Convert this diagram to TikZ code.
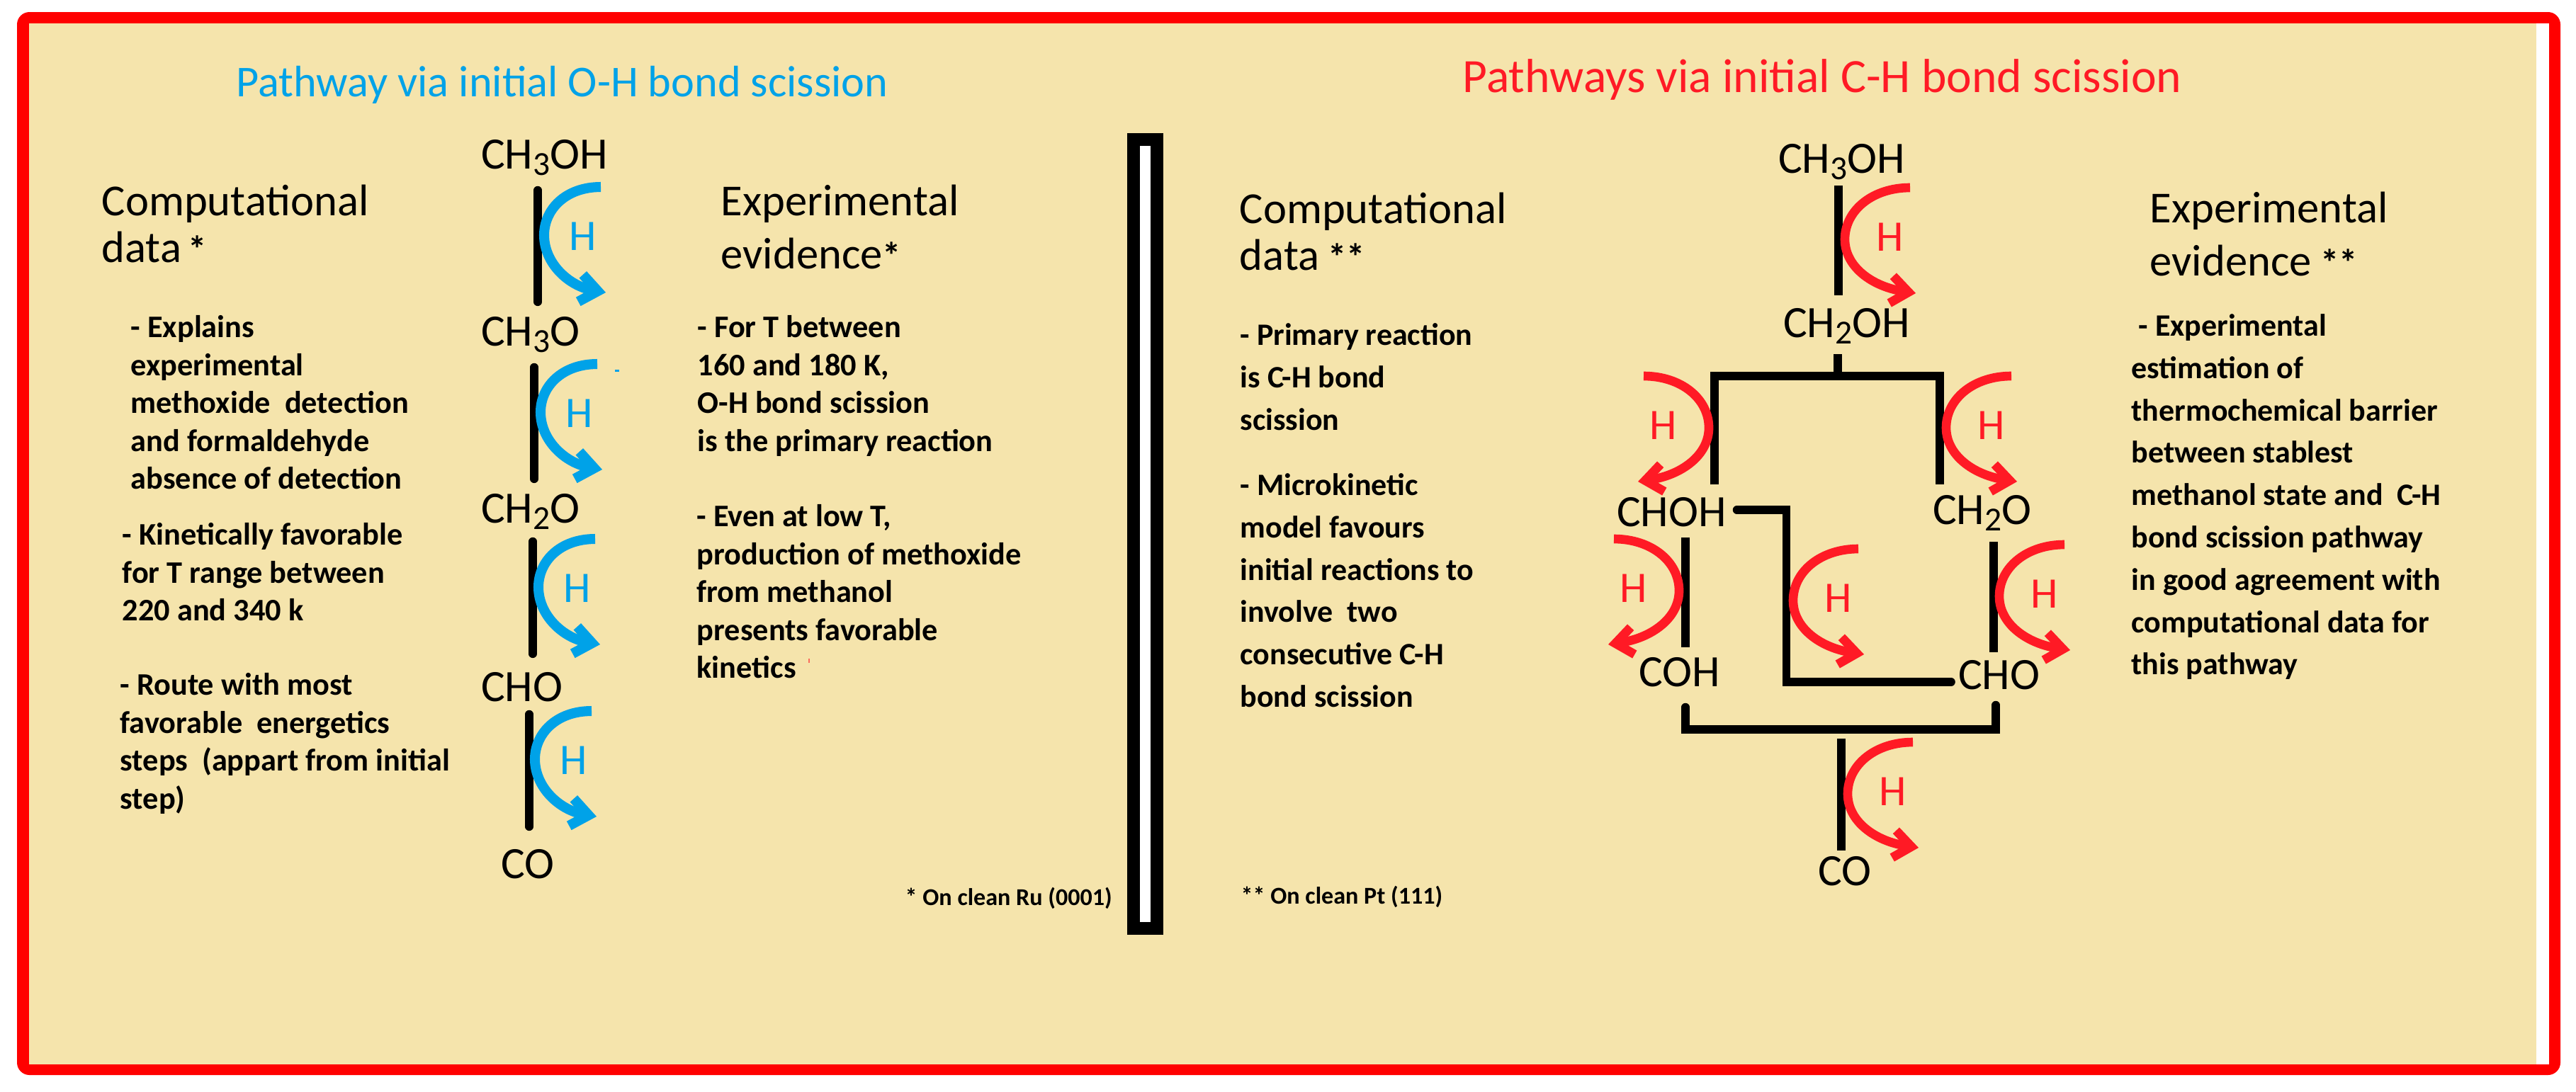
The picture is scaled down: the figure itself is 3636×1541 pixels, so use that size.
\documentclass[tikz,border=0pt]{standalone}
\usepackage{fontspec}
\setmainfont{Carlito}
\usepackage{xcolor}
\usepackage{tikz}
\usetikzlibrary{arrows.meta, calc}

\definecolor{paper}{HTML}{F5E4AC}
\definecolor{pathblue}{HTML}{00A2E8}
\definecolor{pathred}{HTML}{FF1A25}

\newcommand{\lowd}[1]{\raisebox{-.15em}{\scalebox{.75}{#1}}}
\newcommand{\stars}[1]{{\fontsize{15}{15}\selectfont\bfseries #1}}
\def\bluecurve{(25,-70) .. controls (-25,-70) and (-55,-38) .. (-55,-2) .. controls (-55,38) and (-20,70) .. (32,79)}
\def\redcurve{(28,-70) .. controls (-25,-70) and (-64,-38) .. (-64,3) .. controls (-64,42) and (-25,70) .. (36,79)}

\begin{document}
\begin{tikzpicture}[
  x=0.01cm, y=-0.01cm,
  title/.style = {inner sep=0pt, anchor=west, font=\fontsize{17.7}{20}\selectfont},
  head/.style  = {inner sep=0pt, anchor=north west, align=left, font=\fontsize{17.8}{18.8}\selectfont},
  headb/.style = {inner sep=0pt, anchor=north west, align=left, font=\fontsize{17.8}{21.3}\selectfont},
  txtl/.style  = {inner sep=0pt, anchor=north west, align=left, font=\fontsize{12.6}{15.2}\selectfont\bfseries},
  txtr/.style  = {inner sep=0pt, anchor=north west, align=left, font=\fontsize{12.5}{17}\selectfont\bfseries},
  note/.style  = {inner sep=0pt, anchor=west, font=\fontsize{9.7}{11}\selectfont\bfseries},
  mol/.style   = {inner sep=0pt, outer sep=0pt, anchor=base west, text height=11pt, text depth=3pt,
                  font=\fontsize{18}{20}\selectfont},
  hb/.style    = {inner sep=0pt, text=pathblue, font=\fontsize{17.5}{20}\selectfont},
  hr/.style    = {inner sep=0pt, text=pathred, font=\fontsize{17.5}{20}\selectfont},
  bond/.style  = {line width=3.3pt, black},
  bondr/.style = {line width=3.3pt, black, line cap=round},
  arcb/.style  = {line width=4pt, pathblue, -{Straight Barb[length=7pt,width=11pt]}},
  arcr/.style  = {line width=3.6pt, pathred, -{Straight Barb[length=7pt,width=11pt]}},
]
  \useasboundingbox (0,0) rectangle (3636,1541);
  \fill[white] (0,0) rectangle (3636,1541);
  \fill[red, rounded corners=5pt] (24,17) rectangle (3614,1518);
  \fill[white] (3580,33) rectangle (3598,1503);
  \fill[paper] (41,33) rectangle (3580,1503);

  \node[draw=black, line width=5.1pt, fill=white, minimum width=0.33cm, minimum height=11.14cm,
        inner sep=0pt] (divider) at (1616.5,754) {};

  % left side
  \node[title, text=pathblue] (titleo) at (333,120) {Pathway via initial O-H bond scission};
  \node[head] (compo) at (143,260) {Computational\\data\hspace{.15em}\stars{*}};
  \node[headb] (expo) at (1017,260) {Experimental\\evidence\stars{*}};
  \node[txtl] (txta) at (184,445) {- Explains\\experimental\\methoxide\ \ detection\\and formaldehyde\\absence of detection};
  \node[txtl] (txtb) at (172,738) {- Kinetically favorable\\for T range between\\220 and 340 k};
  \node[txtl] (txtc) at (169,950) {- Route with most\\favorable\ \ energetics\\steps\ \ (appart from initial\\step)};
  \node[txtl] (txtd) at (984,445) {- For T between\\160 and 180 K,\\O-H bond scission\\is the primary reaction};
  \node[txtl] (txte) at (983,712) {- Even at low T,\\production of methoxide\\from methanol\\presents favorable\\kinetics};
  \node[note] (noteo) at (1277,1268) {* On clean Ru (0001)};
  \fill[pathblue] (868,522) rectangle (874,525);
  \fill[pathred!60!paper] (1141,930) rectangle (1143,936);

  \node[mol] (ch3oh) at (679,238) {CH\lowd{3}OH};
  \node[mol] (ch3o) at (679,488) {CH\lowd{3}O};
  \node[mol] (ch2o) at (679,738) {CH\lowd{2}O};
  \node[mol] (cho) at (679,990) {CHO};
  \node[mol] (co) at (707,1240) {CO};

  \draw[bondr] ($(ch3oh.south west)+(80,20)$) -- ($(ch3o.north west)+(80,-23)$);
  \draw[bondr] ($(ch3o.south west)+(75,20)$) -- ($(ch2o.north west)+(75,-23)$);
  \draw[bondr] ($(ch2o.south west)+(73,16)$) -- ($(cho.north west)+(73,-28)$);
  \draw[bondr] ($(cho.south west)+(68,8)$) -- ($(co.north west)+(40,-34)$);

  \node[hb] (h1) at (823,334) {H};
  \node[hb] (h2) at (818,584) {H};
  \node[hb] (h3) at (815,831) {H};
  \node[hb] (h4) at (810,1074) {H};
  \draw[arcb, shift={(h1)}] \bluecurve;
  \draw[arcb, shift={(h2)}] \bluecurve;
  \draw[arcb, shift={(h3)}] \bluecurve;
  \draw[arcb, shift={(h4)}] \bluecurve;

  % right side
  \node[title, text=pathred, font=\fontsize{19.2}{20}\selectfont] (titlec) at (2064,112) {Pathways via initial C-H bond scission};
  \node[head] (compc) at (1749,271) {Computational\\data\hspace{.2em}\stars{**}};
  \node[headb] (expc) at (3034,270) {Experimental\\evidence\hspace{.2em}\stars{**}};
  \node[txtr] (txtf) at (1750,456) {- Primary reaction\\is C-H bond\\scission};
  \node[txtr] (txtg) at (1750,668) {- Microkinetic\\model favours\\initial reactions to\\involve\ \ two\\consecutive C-H\\bond scission};
  \node[txtr] (txth) at (3008,443) {\ - Experimental\\estimation of\\thermochemical barrier\\between stablest\\methanol state and\ \ C-H\\bond scission pathway\\in good agreement with\\computational data for\\this pathway};
  \node[note] (notec) at (1751,1266) {** On clean Pt (111)};

  \node[mol] (rch3oh) at (2510,244) {CH\lowd{3}OH};
  \node[mol] (rch2oh) at (2517,476) {CH\lowd{2}OH};
  \node[mol] (rchoh) at (2282,743) {CHOH};
  \node[mol] (rch2o) at (2728,740) {CH\lowd{2}O};
  \node[mol] (rcoh) at (2313,969) {COH};
  \node[mol] (rcho) at (2764,973) {CHO};
  \node[mol] (rco) at (2566,1250) {CO};
  \coordinate (jtop) at (2594,531);
  \coordinate (jbot) at (2599,1030);

  \draw[bond] ($(rch3oh.south west)+(85,7.5)$) -- ($(rch2oh.north west)+(78,-20)$);
  \draw[bond] ($(rch2oh.south west)+(77,13.5)$) -- (jtop);
  \draw[bond] ($(rchoh.north west)+(138,-20)$) |- (jtop) -| ($(rch2o.north west)+(10,-17)$);
  \draw[bond] ($(rchoh.south west)+(97,5.5)$) -- ($(rcoh.north west)+(66,-16)$);
  \draw[bond] ($(rch2o.south west)+(86,14.5)$) -- ($(rcho.north west)+(50,-13)$);
  \draw[bond, line cap=round] ($(rchoh.east)+(15,-9)$) -- ++(70,0) |- ($(rcho.west)+(-10,4)$);
  \draw[bond, line cap=round] ($(rcoh.south west)+(66,19)$) |- (jbot) -| ($(rcho.south west)+(53,12)$);
  \draw[bond] ($(jbot)+(0,13)$) -- ($(rco.north west)+(33,-10)$);

  \node[hr] (r1) at (2668,335) {H};
  \node[hr] (r2) at (2348,601) {H};
  \node[hr] (r3) at (2811,601) {H};
  \node[hr] (r4) at (2306,831) {H};
  \node[hr] (r5) at (2595,845) {H};
  \node[hr] (r6) at (2886,839) {H};
  \node[hr] (r7) at (2672,1118) {H};
  \draw[arcr, shift={(r1)}] \redcurve;
  \draw[arcr, shift={(r2)}, xscale=-1] \redcurve;
  \draw[arcr, shift={(r3)}] \redcurve;
  \draw[arcr, shift={(r4)}, xscale=-1] \redcurve;
  \draw[arcr, shift={(r5)}] \redcurve;
  \draw[arcr, shift={(r6)}] \redcurve;
  \draw[arcr, shift={(r7)}] \redcurve;
\end{tikzpicture}
\end{document}
